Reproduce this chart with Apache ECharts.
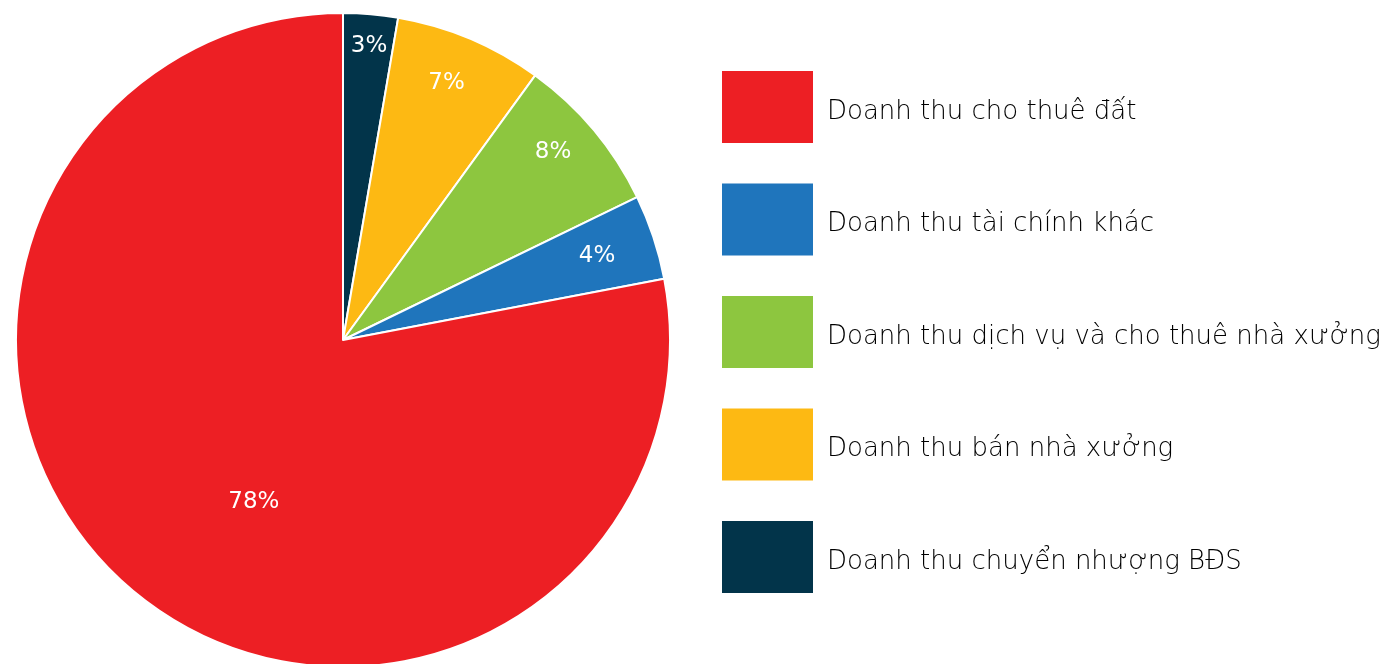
<!DOCTYPE html>
<html>
<head>
<meta charset="utf-8">
<script src="https://cdn.jsdelivr.net/npm/echarts@6/dist/echarts.min.js"></script>
<style>
html,body{margin:0;padding:0;background:#fff;}
#chart{width:1382px;height:664px;}
</style>
</head>
<body>
<div id="chart"></div>
<script>
// Slices in clockwise order starting at 12 o'clock
const sliceNames = [
  'Doanh thu chuyển nhượng BĐS',
  'Doanh thu bán nhà xưởng',
  'Doanh thu dịch vụ và cho thuê nhà xưởng',
  'Doanh thu tài chính khác',
  'Doanh thu cho thuê đất'
];
const sliceValues = [2.7, 7.3, 7.8, 4.2, 78.0];
const sliceColors = ['#02344A', '#FDB913', '#8DC63F', '#1F75BC', '#ED1F24'];
// Legend order as shown
const legendOrder = [
  'Doanh thu cho thuê đất',
  'Doanh thu tài chính khác',
  'Doanh thu dịch vụ và cho thuê nhà xưởng',
  'Doanh thu bán nhà xưởng',
  'Doanh thu chuyển nhượng BĐS'
];

const FONT = '"DejaVu Sans", sans-serif';
const chart = echarts.init(document.getElementById('chart'), null, {renderer: 'canvas'});

const colorOf = n => sliceColors[sliceNames.indexOf(n)];
const bigIndex = sliceValues.indexOf(Math.max(...sliceValues));

const mainData = sliceNames.map((n, i) => ({
  name: n, value: sliceValues[i],
  itemStyle: {color: sliceColors[i]},
  label: {show: i === bigIndex}
}));
const overlayData = sliceNames.map((n, i) => ({
  name: n, value: sliceValues[i],
  itemStyle: {color: 'rgba(0,0,0,0)', borderWidth: 0},
  label: {show: i !== bigIndex}
}));
const pctFmt = p => Math.round(p.value) + '%';

// small label nudges (styling only), keyed by slice index
function nudge(i) {
  switch (i) {
    case 0: return {dx: 2, dy: -10};
    case 1: return {dx: -7, dy: 5};
    case 2: return {dx: -8, dy: -5};
    case 3: return {dx: -16, dy: 6};
    default: return {};
  }
}

const labelStyle = {
  position: 'inside',
  formatter: pctFmt,
  color: '#ffffff',
  fontFamily: FONT,
  fontWeight: 'normal',
  fontSize: 23
};

chart.setOption({
  animation: false,
  backgroundColor: '#ffffff',
  legend: {
    orient: 'vertical',
    left: 717,
    top: 66,
    itemWidth: 91,
    itemHeight: 72,
    itemGap: 40.5,
    icon: 'rect',
    selectedMode: false,
    data: legendOrder.map(n => ({name: n, itemStyle: {color: colorOf(n), borderWidth: 0}})),
    itemStyle: {borderWidth: 0},
    formatter: name => '{t|' + name + '}',
    textStyle: {
      fontFamily: FONT,
      fontWeight: 200,
      fontSize: 26,
      color: '#000000',
      padding: [0, 0, 0, 9],
      rich: {
        t: {
          fontFamily: FONT,
          fontWeight: 200,
          fontSize: 26,
          color: '#000000',
          padding: [10, 0, 0, 0]
        }
      }
    }
  },
  series: [
    {
      type: 'pie',
      center: [343, 340],
      radius: [0, 327],
      startAngle: 90,
      clockwise: true,
      silent: true,
      avoidLabelOverlap: false,
      itemStyle: {borderColor: '#ffffff', borderWidth: 2},
      label: labelStyle,
      labelLine: {show: false},
      labelLayout: function (p) {
        return p.dataIndex === bigIndex ? {dx: 17, dy: 34} : {};
      },
      emphasis: {disabled: true},
      data: mainData
    },
    {
      type: 'pie',
      center: [343, 340],
      radius: [236, 327],
      startAngle: 90,
      clockwise: true,
      silent: true,
      avoidLabelOverlap: false,
      legendHoverLink: false,
      label: labelStyle,
      labelLine: {show: false},
      labelLayout: function (p) { return nudge(p.dataIndex); },
      emphasis: {disabled: true},
      data: overlayData
    }
  ]
});
</script>
</body>
</html>
